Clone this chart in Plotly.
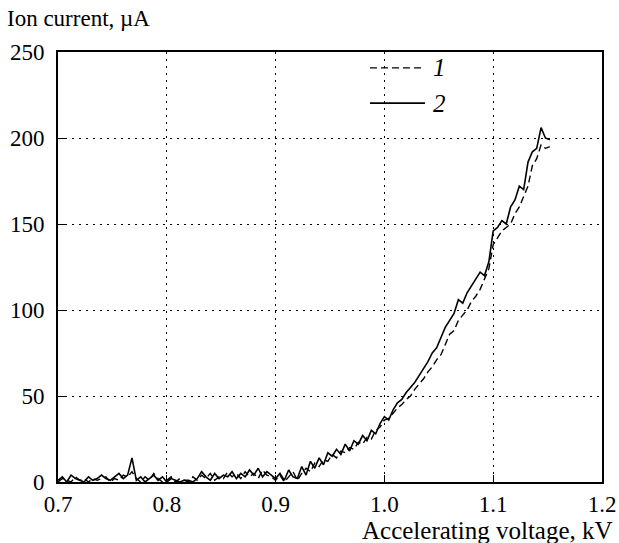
import plotly.graph_objects as go

voltage_kv = [
    0.700, 0.704, 0.708, 0.712, 0.716, 0.720, 0.724, 0.728, 0.732, 0.736,
    0.740, 0.744, 0.748, 0.752, 0.756, 0.760, 0.764, 0.768, 0.772, 0.776,
    0.780, 0.784, 0.788, 0.792, 0.796, 0.800, 0.804, 0.808, 0.812, 0.816,
    0.820, 0.824, 0.828, 0.832, 0.836, 0.840, 0.844, 0.848, 0.852, 0.856,
    0.860, 0.864, 0.868, 0.872, 0.876, 0.880, 0.884, 0.888, 0.892, 0.896,
    0.900, 0.904, 0.908, 0.912, 0.916, 0.920, 0.924, 0.928, 0.932, 0.936,
    0.940, 0.944, 0.948, 0.952, 0.956, 0.960, 0.964, 0.968, 0.972, 0.976,
    0.980, 0.984, 0.988, 0.992, 0.996, 1.000, 1.004, 1.008, 1.012, 1.016,
    1.020, 1.024, 1.028, 1.032, 1.036, 1.040, 1.044, 1.048, 1.052, 1.056,
    1.060, 1.064, 1.068, 1.072, 1.076, 1.080, 1.084, 1.088, 1.092, 1.096,
    1.100, 1.104, 1.108, 1.112, 1.116, 1.120, 1.124, 1.128, 1.132, 1.136,
    1.140, 1.144, 1.148, 1.152,
]

current_1 = [
    0, 2, 1, 0, 3, 1, 2, 0, 2, 1,
    2, 3, 0, 2, 1, 4, 3, 6, 2, 0,
    3, 1, 5, 2, 0, 1, 3, 0, 2, 1,
    0, 3, 1, 4, 2, 5, 1, 3, 2, 6,
    3, 5, 2, 6, 3, 5, 2, 7, 4, 3,
    1, 4, 0, 3, 6, 1, 5, 8, 6, 11,
    9, 13, 12, 16, 14, 18, 17, 20, 19, 23,
    22, 26, 25, 30, 32, 36, 37, 40, 43, 45,
    48, 50, 54, 57, 60, 64, 67, 71, 74, 80,
    86, 88, 94, 97, 100, 105, 108, 112, 118, 124,
    138, 142, 146, 148, 150, 156, 160, 166, 172, 184,
    188, 196, 194, 195,
]

current_2 = [
    1, 3, 0, 4, 2, 1, 0, 3, 1, 2,
    4, 2, 1, 3, 5, 2, 4, 14, 1, 3,
    0, 2, 4, 1, 3, 0, 2, 1, 0, 1,
    1, 0, 2, 6, 3, 1, 5, 2, 4, 3,
    6, 2, 5, 3, 7, 4, 8, 3, 6, 4,
    2, 5, 1, 7, 3, 2, 9, 4, 12, 8,
    14, 10, 17, 15, 19, 16, 22, 18, 24, 22,
    27, 24, 30, 28, 34, 38, 36, 42, 46, 48,
    52, 55, 58, 62, 66, 70, 75, 78, 84, 90,
    94, 98, 106, 104, 110, 114, 118, 122, 120, 128,
    146, 148, 152, 150, 160, 164, 172, 170, 186, 192,
    194, 206, 200, 199,
]

series_labels = ["1", "2"]
x_ticks = [0.7, 0.8, 0.9, 1.0, 1.1, 1.2]
x_tick_labels = ["0.7", "0.8", "0.9", "1.0", "1.1", "1.2"]
y_ticks = [0, 50, 100, 150, 200, 250]

FONT = "Times New Roman, Times, serif"

fig = go.Figure()
fig.add_trace(go.Scatter(
    x=voltage_kv, y=current_1, mode="lines", name=series_labels[0],
    line=dict(color="black", width=1.4, dash="7px,4px"),
))
fig.add_trace(go.Scatter(
    x=voltage_kv, y=current_2, mode="lines", name=series_labels[1],
    line=dict(color="black", width=1.6),
))

axis_common = dict(
    showline=True, linecolor="black", linewidth=2, mirror=True,
    showgrid=True, gridcolor="black", gridwidth=1.3, griddash="2px,5px",
    zeroline=False, ticks="inside", ticklen=7, tickcolor="black",
    automargin=False, ticklabeloverflow="allow",
    tickfont=dict(family=FONT, size=23, color="black"),
)

# legend drawn as line samples + italic labels
legend_shapes = [
    dict(type="line", xref="paper", yref="paper", x0=0.5735, x1=0.6746, y0=0.963, y1=0.963,
         line=dict(color="black", width=1.4, dash="7px,4px")),
    dict(type="line", xref="paper", yref="paper", x0=0.5735, x1=0.6746, y0=0.881, y1=0.881,
         line=dict(color="black", width=1.6)),
]
legend_texts = [
    dict(text="<i>" + series_labels[0] + "</i>", xref="paper", yref="paper", x=0.6857, y=0.963,
         xanchor="left", yanchor="middle", showarrow=False,
         font=dict(family=FONT, size=25, color="black")),
    dict(text="<i>" + series_labels[1] + "</i>", xref="paper", yref="paper", x=0.6857, y=0.881,
         xanchor="left", yanchor="middle", showarrow=False,
         font=dict(family=FONT, size=25, color="black")),
]

fig.update_layout(
    width=619, height=543,
    margin=dict(l=58, r=17, t=52, b=61, autoexpand=False),
    paper_bgcolor="white", plot_bgcolor="white",
    showlegend=False,
    font=dict(family=FONT),
    xaxis=dict(range=[0.7, 1.2], tickvals=x_ticks, ticktext=x_tick_labels, **axis_common),
    yaxis=dict(range=[0, 250], tickvals=y_ticks, ticklabelstandoff=7, **axis_common),
    shapes=legend_shapes,
    annotations=legend_texts + [
        dict(text="Ion current, µA", xref="paper", yref="paper",
             x=-0.0974, y=1.0, xanchor="left", yanchor="bottom", yshift=19,
             showarrow=False, font=dict(family=FONT, size=23, color="black")),
        dict(text="Accelerating voltage, kV", xref="paper", yref="paper",
             x=1.0239, y=0, xanchor="right", yanchor="top", yshift=-33,
             showarrow=False, font=dict(family=FONT, size=25, color="black")),
    ],
)

fig.write_html("out.html")
